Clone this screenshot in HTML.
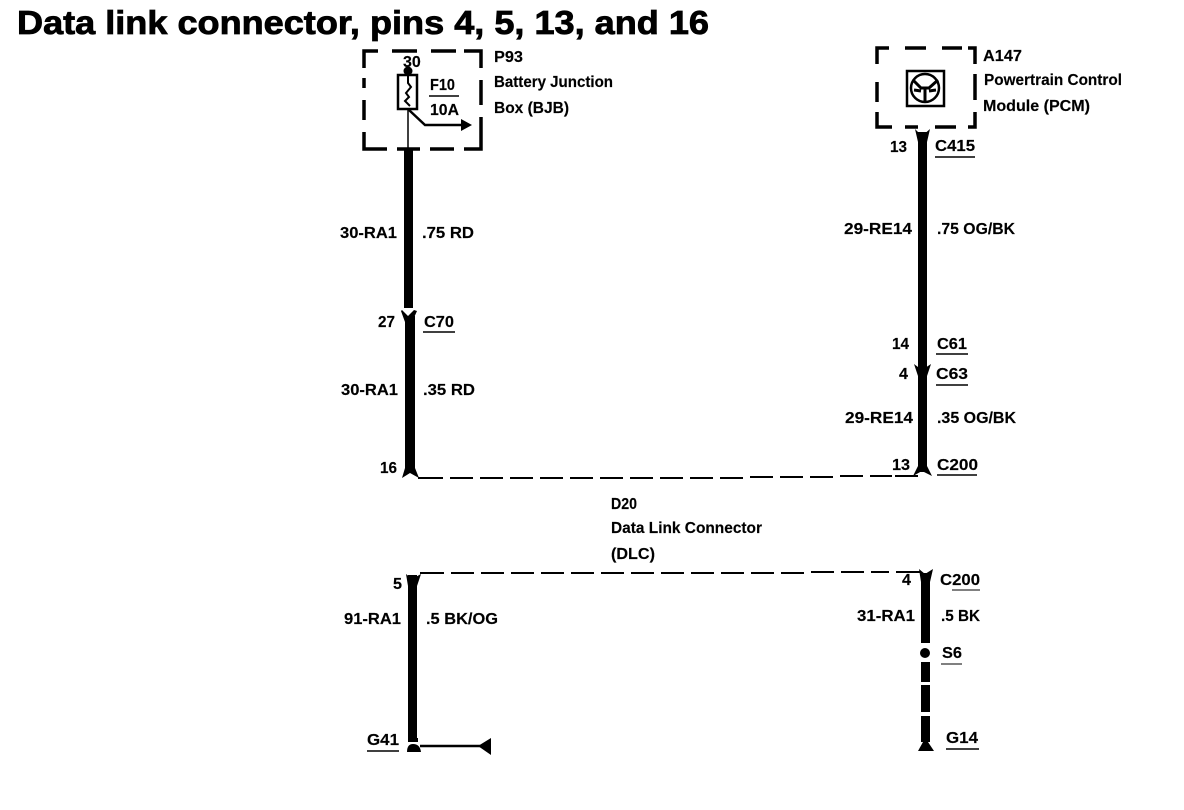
<!DOCTYPE html>
<html><head><meta charset="utf-8"><style>
html,body{margin:0;padding:0;background:#fff;width:1184px;height:810px;overflow:hidden}
svg{display:block}
text{font-family:"Liberation Sans",sans-serif;font-size:16px;font-weight:bold;fill:#000;stroke:#000;stroke-width:.15px}
</style></head><body>
<svg width="1184" height="810" viewBox="0 0 1184 810">
<rect width="1184" height="810" fill="#fff"/>
<text x="17" y="34" style="font-size:33px;stroke-width:.8px" textLength="692" lengthAdjust="spacingAndGlyphs">Data link connector, pins 4, 5, 13, and 16</text>

<!-- P93 -->
<g fill="none" stroke="#000">
<path d="M364 68V51H378M392 51H417M431 51H456M464 51H481V68M481 80V105M481 117V149H464M454 149H430M420 149H397M387 149H364V132M364 120V100M364 88V78" stroke-width="3.500"/>
<rect x="398" y="75" width="19" height="34" stroke-width="2.500"/>
<path d="M408 75V83L411 87L406 93L409 97L405 101L410 106" stroke-width="2"/>
<path d="M408 109V150" stroke-width="1.500"/>
<path d="M409 110L425 125H462" stroke-width="2.500"/>
<path d="M429 96H459" stroke-width="1.500"/>
</g>
<circle cx="408" cy="71" r="4.500"/>
<path d="M461 119L472 125L461 131Z"/>
<text x="403" y="67">30</text>
<text x="430" y="90" textLength="25" lengthAdjust="spacingAndGlyphs">F10</text>
<text x="430" y="115" textLength="29" lengthAdjust="spacingAndGlyphs">10A</text>
<text x="494" y="62" textLength="29" lengthAdjust="spacingAndGlyphs">P93</text>
<text x="494" y="87" textLength="119" lengthAdjust="spacingAndGlyphs">Battery Junction</text>
<text x="494" y="113" textLength="75" lengthAdjust="spacingAndGlyphs">Box (BJB)</text>

<!-- A147 -->
<g fill="none" stroke="#000">
<path d="M877 64V48H889M905 48H926M942 48H962M968 48H975V64M975 74V100M975 112V127H968M956 127H935M918 127H905M892 127H877V112M877 102V82" stroke-width="3.500"/>
<rect x="907" y="71" width="37" height="35" stroke-width="2.500"/>
<circle cx="925" cy="88" r="14" stroke-width="2.500"/>
<path d="M913 80L921 88H929L938 80M925 88V102M914 90L921 91M936 90L929 91" stroke-width="3"/>
</g>
<text x="983" y="61" textLength="39" lengthAdjust="spacingAndGlyphs">A147</text>
<text x="984" y="85" textLength="138" lengthAdjust="spacingAndGlyphs">Powertrain Control</text>
<text x="983" y="111" textLength="107" lengthAdjust="spacingAndGlyphs">Module (PCM)</text>

<!-- Wires -->
<rect x="404" y="150" width="9" height="158"/>
<path d="M402 310L408 316L414 310L417 311L412 322H405L401 311Z"/>
<rect x="405" y="316" width="10" height="154"/>
<path d="M405 468H415L419 478L410 473L402 478Z"/>
<rect x="918" y="132" width="9" height="340"/>
<path d="M915 129L922 136L930 129L927 142H918Z"/>
<path d="M914 364L922 370L931 364L927 376H918Z"/>
<path d="M918 466H927L932 476L922 471L913 476Z"/>
<rect x="408" y="575" width="9" height="165"/>
<path d="M406 574L412 579L421 574L417 586H408Z"/>
<rect x="921" y="573" width="9" height="70"/>
<path d="M919 569L925 574L933 569L930 582H921Z"/>
<circle cx="925" cy="653" r="5"/>
<path d="M921 662H930V682H921ZM921 685H930V712H921ZM921 716H930V742H921Z"/>
<path d="M918 751L923 742H928L934 751Z"/>
<rect x="408" y="738" width="10" height="4"/>
<path d="M407 752Q407 744 413 744Q420 744 421 752Z"/>
<path d="M420 746H480" stroke="#000" stroke-width="2.500" fill="none"/>
<path d="M478 746L491 738V755Z"/>

<!-- Dashed lines -->
<path d="M418 478H443M450 478H473M480 478H503M510 478H533M540 478H563M570 478H593M600 478H623M630 478H653M660 478H683M690 478H713M720 478H743M750 477H773M780 477H803M810 477H833M840 476H863M870 476H892M895 476H918" stroke="#000" stroke-width="2" fill="none"/>
<path d="M420 573H444M451 573H474M481 573H504M511 573H534M541 573H564M571 573H594M601 573H624M631 573H654M661 573H684M691 573H714M721 573H744M751 573H774M781 573H804M811 572H834M841 572H864M871 572H889M896 572H920" stroke="#000" stroke-width="2" fill="none"/>

<!-- Labels -->
<text x="340" y="238" textLength="57" lengthAdjust="spacingAndGlyphs">30-RA1</text>
<text x="422" y="238" textLength="52" lengthAdjust="spacingAndGlyphs">.75 RD</text>
<text x="378" y="327" textLength="17" lengthAdjust="spacingAndGlyphs">27</text>
<text x="424" y="327" textLength="30" lengthAdjust="spacingAndGlyphs">C70</text>
<path d="M423 332H455" stroke="#000" stroke-width="1.500"/>
<text x="341" y="395" textLength="57" lengthAdjust="spacingAndGlyphs">30-RA1</text>
<text x="423" y="395" textLength="52" lengthAdjust="spacingAndGlyphs">.35 RD</text>
<text x="380" y="473" textLength="17" lengthAdjust="spacingAndGlyphs">16</text>

<text x="890" y="152" textLength="17" lengthAdjust="spacingAndGlyphs">13</text>
<text x="935" y="151" textLength="40" lengthAdjust="spacingAndGlyphs">C415</text>
<path d="M935 157H975" stroke="#000" stroke-width="1.500"/>
<text x="844" y="234" textLength="68" lengthAdjust="spacingAndGlyphs">29-RE14</text>
<text x="937" y="234" textLength="78" lengthAdjust="spacingAndGlyphs">.75 OG/BK</text>
<text x="892" y="349" textLength="17" lengthAdjust="spacingAndGlyphs">14</text>
<text x="937" y="349" textLength="30" lengthAdjust="spacingAndGlyphs">C61</text>
<path d="M936 354H968" stroke="#000" stroke-width="1.500"/>
<text x="899" y="379" textLength="9" lengthAdjust="spacingAndGlyphs">4</text>
<text x="936" y="379" textLength="32" lengthAdjust="spacingAndGlyphs">C63</text>
<path d="M936 385H968" stroke="#000" stroke-width="1.500"/>
<text x="845" y="423" textLength="68" lengthAdjust="spacingAndGlyphs">29-RE14</text>
<text x="937" y="423" textLength="79" lengthAdjust="spacingAndGlyphs">.35 OG/BK</text>
<text x="892" y="470" textLength="18" lengthAdjust="spacingAndGlyphs">13</text>
<text x="937" y="470" textLength="41" lengthAdjust="spacingAndGlyphs">C200</text>
<path d="M937 475H977" stroke="#000" stroke-width="1.500"/>

<text x="611" y="509" textLength="26" lengthAdjust="spacingAndGlyphs">D20</text>
<text x="611" y="533" textLength="151" lengthAdjust="spacingAndGlyphs">Data Link Connector</text>
<text x="611" y="559" textLength="44" lengthAdjust="spacingAndGlyphs">(DLC)</text>

<text x="393" y="589" textLength="9" lengthAdjust="spacingAndGlyphs">5</text>
<text x="344" y="624" textLength="57" lengthAdjust="spacingAndGlyphs">91-RA1</text>
<text x="426" y="624" textLength="72" lengthAdjust="spacingAndGlyphs">.5 BK/OG</text>
<text x="367" y="745" textLength="32" lengthAdjust="spacingAndGlyphs">G41</text>
<path d="M367 751H399" stroke="#000" stroke-width="1.500"/>

<text x="902" y="585" textLength="9" lengthAdjust="spacingAndGlyphs">4</text>
<text x="940" y="585" textLength="40" lengthAdjust="spacingAndGlyphs">C200</text>
<path d="M952 590H980" stroke="#000" stroke-width="1"/>
<text x="857" y="621" textLength="58" lengthAdjust="spacingAndGlyphs">31-RA1</text>
<text x="941" y="621" textLength="39" lengthAdjust="spacingAndGlyphs">.5 BK</text>
<text x="942" y="658" textLength="20" lengthAdjust="spacingAndGlyphs">S6</text>
<path d="M941 664H962" stroke="#000" stroke-width="1"/>
<text x="946" y="743" textLength="32" lengthAdjust="spacingAndGlyphs">G14</text>
<path d="M946 749H979" stroke="#000" stroke-width="1.500"/>
</svg>
</body></html>
